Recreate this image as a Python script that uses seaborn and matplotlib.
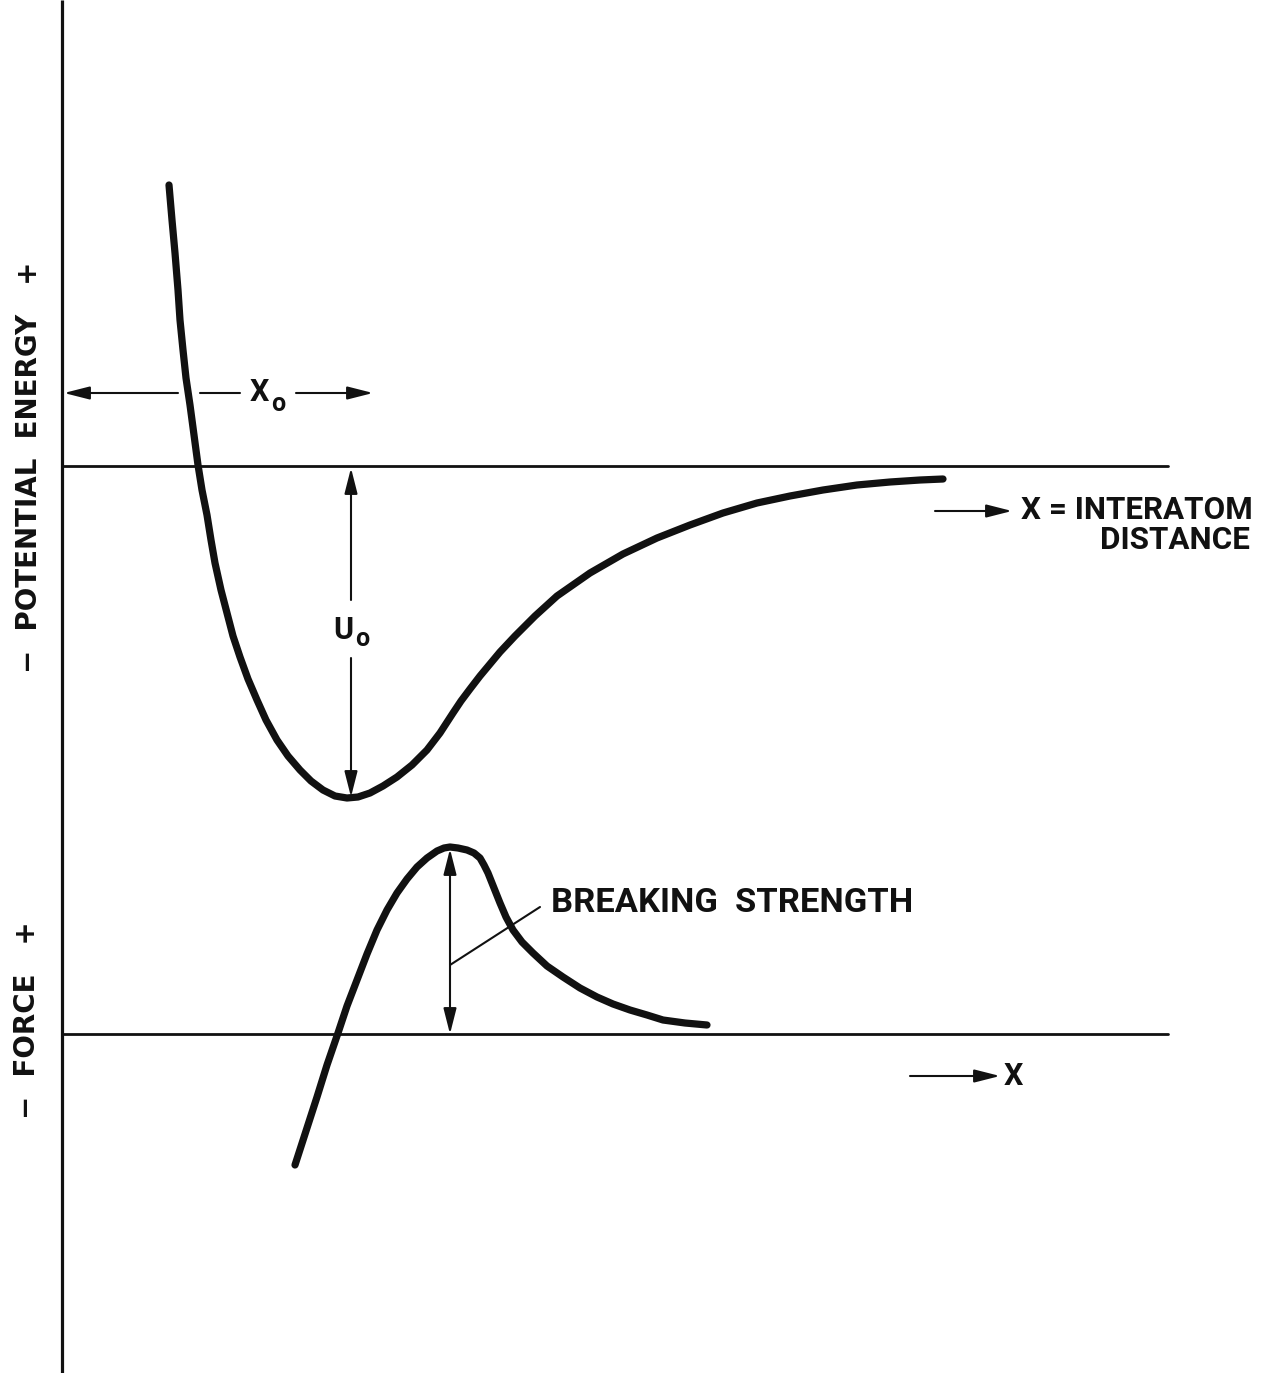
import matplotlib
matplotlib.use("Agg")
import matplotlib.pyplot as plt
from matplotlib import font_manager
import seaborn as sns
import pandas as pd

sns.set_theme(style="white")
names = {f.name for f in font_manager.fontManager.ttflist}
FONT = "Roboto" if "Roboto" in names else "DejaVu Sans"
plt.rcParams['font.family'] = [FONT, 'DejaVu Sans']

# Potential energy curve (diagram units: x to the right, y downward as drawn)
energy_x = [169, 172, 175, 178, 180, 183, 186, 190, 194, 198, 202, 207, 211, 215, 221,
            227, 233, 240, 248, 257, 266, 277, 288, 300, 311, 323, 335, 347, 358, 370,
            383, 397, 412, 427, 440, 453, 461, 470, 480, 490, 500, 515, 535, 557, 590,
            623, 657, 690, 723, 757, 790, 823, 857, 890, 920, 943]
energy_y = [185, 220, 253, 290, 320, 350, 378, 405, 435, 465, 490, 515, 540, 563, 590,
            613, 636, 657, 679, 700, 720, 740, 756, 770, 781, 790, 796, 798, 797, 793,
            786, 777, 765, 750, 733, 713, 701, 689, 676, 664, 652, 636, 616, 596, 573,
            554, 538, 525, 513, 503, 496, 490, 485, 482, 480, 479]

# Force curve
force_x = [295, 306, 317, 327, 338, 347, 357, 367, 377, 387, 397, 407, 417, 427, 437,
           444, 450, 458, 467, 474, 480, 484, 488, 494, 500, 506, 513, 522, 533, 547,
           563, 580, 597, 613, 630, 647, 663, 685, 707]
force_y = [1165, 1131, 1097, 1065, 1033, 1006, 980, 954, 930, 910, 893, 879, 867, 858, 851,
           848, 847, 848, 850, 853, 858, 865, 873, 888, 903, 917, 930, 942, 953, 966,
           977, 988, 997, 1004, 1010, 1015, 1020, 1023, 1025]

energy_zero = 466
force_zero = 1034
axis_x = 62

df_e = pd.DataFrame({"x": energy_x, "y": energy_y})
df_f = pd.DataFrame({"x": force_x, "y": force_y})

fig = plt.figure(figsize=(12.62, 13.73), dpi=100)
ax = fig.add_axes([0, 0, 1, 1])

black = "#111111"
sns.lineplot(data=df_e, x="x", y="y", sort=False, ax=ax, color=black, lw=5.2,
             estimator=None)
sns.lineplot(data=df_f, x="x", y="y", sort=False, ax=ax, color=black, lw=5.2,
             estimator=None)
for ln in ax.lines:
    ln.set_solid_joinstyle("round")
    ln.set_solid_capstyle("round")
ax.set_xlim(0, 1262)
ax.set_ylim(1373, 0)
ax.axis("off")

# axes lines
ax.plot([axis_x, axis_x], [0, 1373], color=black, lw=2.3, solid_capstyle="butt")
ax.plot([axis_x, 1168], [energy_zero, energy_zero], color=black, lw=2.0)
ax.plot([axis_x, 1168], [force_zero, force_zero], color=black, lw=2.0)

arr = dict(arrowstyle="-|>,head_length=1.3,head_width=0.33", color=black, lw=1.5,
           shrinkA=0, shrinkB=0)

lab = dict(fontweight="bold", color=black)
ylab = dict(fontweight="bold", color=black, family=["DejaVu Sans"])

# X0 arrows
ax.annotate("", xy=(axis_x + 2, 393), xytext=(178, 393), arrowprops=arr)
ax.plot([200, 240], [393, 393], color=black, lw=1.5)
ax.annotate("", xy=(373, 393), xytext=(296, 393), arrowprops=arr)
ax.text(250, 392, "X", fontsize=22, ha="left", va="center", **lab)
ax.text(271, 404, "o", fontsize=18, ha="left", va="center", **lab)

# U0 arrows
ax.annotate("", xy=(351, energy_zero + 2), xytext=(351, 600), arrowprops=arr)
ax.annotate("", xy=(351, 797), xytext=(351, 658), arrowprops=arr)
ax.text(333, 630, "U", fontsize=22, ha="left", va="center", **lab)
ax.text(355, 639, "o", fontsize=18, ha="left", va="center", **lab)

# breaking strength arrows
ax.annotate("", xy=(450, 849), xytext=(450, 940), arrowprops=arr)
ax.annotate("", xy=(450, force_zero), xytext=(450, 940), arrowprops=arr)
ax.plot([450, 540], [965, 907], color=black, lw=1.5)
ax.text(551, 903, "BREAKING  STRENGTH", fontsize=24.8, ha="left", va="center", **lab)

# x-axis labels
ax.annotate("", xy=(1012, 511), xytext=(935, 511), arrowprops=arr)
ax.text(1021, 510, "X = INTERATOM", fontsize=22.6, ha="left", va="center", **lab)
ax.text(1250, 540, "DISTANCE", fontsize=22.6, ha="right", va="center", **lab)
ax.annotate("", xy=(1000, 1076), xytext=(910, 1076), arrowprops=arr)
ax.text(1004, 1076, "X", fontsize=22, ha="left", va="center", **lab)

# y-axis labels
ax.text(29, 467, "\u2212  POTENTIAL  ENERGY   +", fontsize=20, rotation=90,
        ha="center", va="center", **ylab)
ax.text(27, 1020, "\u2212  FORCE   +", fontsize=20, rotation=90,
        ha="center", va="center", **ylab)

fig.savefig("out.png", dpi=100)
